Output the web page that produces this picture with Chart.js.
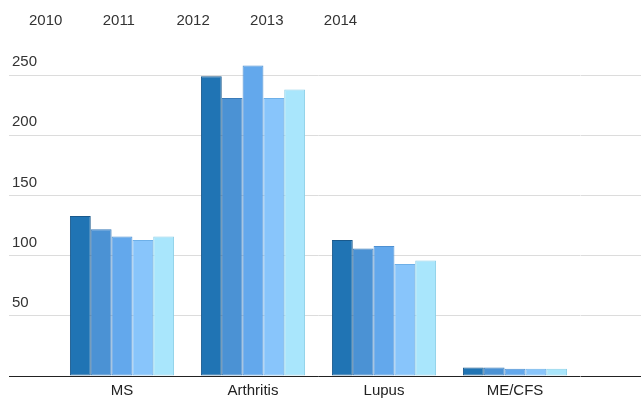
<!DOCTYPE html>
<html lang="en">
<head>
<meta charset="UTF-8">
<title>Cases by condition, 2010-2014</title>
<script src="https://cdn.jsdelivr.net/npm/chart.js"></script>
<style>
    html, body { margin: 0; padding: 0; background: #ffffff; }
    #wrap { width: 641px; height: 398px; position: relative; }
</style>
</head>
<body>
<div id="wrap"><canvas id="chart"></canvas></div>
<script>
const categories = ['MS', 'Arthritis', 'Lupus', 'ME/CFS'];
const years = ['2010', '2011', '2012', '2013', '2014'];
const values2010 = [133, 249, 113, 7];
const values2011 = [122, 231, 106, 7];
const values2012 = [116, 258, 108, 6];
const values2013 = [113, 231, 93, 6];
const values2014 = [116, 238, 96, 6];
const yMax = 280;
const yStep = 50;

const series = [values2010, values2011, values2012, values2013, values2014];
const fills = ['#2074b4', '#4b92d4', '#63a8ec', '#88c5fb', '#a9e6fc'];
const borders = ['#19598c', '#3a7bb8', '#4e90d2', '#6eb0e8', '#8ccfe8'];

const FONT = "Arial, 'Liberation Sans', sans-serif";

// legend text only (the coloured keys are cut off in the original)
const topLegend = {
    id: 'topLegend',
    afterDraw(chart) {
        const ctx = chart.ctx;
        ctx.save();
        ctx.font = '15px ' + FONT;
        ctx.fillStyle = '#333';
        ctx.textAlign = 'left';
        ctx.textBaseline = 'middle';
        chart.data.datasets.forEach((ds, i) => {
            ctx.fillText(ds.label, 29 + i * 73.7, 21);
        });
        ctx.restore();
    }
};

function gridColor(c) {
    return c.tick && c.tick.value === 0 ? '#222' : '#dcdcdc';
}

new Chart(document.getElementById('chart'), {
    type: 'bar',
    data: {
        labels: categories,
        datasets: years.map((y, i) => ({
            label: y,
            data: series[i],
            backgroundColor: fills[i],
            borderColor: borders[i],
            borderWidth: 1,
            borderSkipped: false,
            categoryPercentage: 0.795,
            barPercentage: 1
        }))
    },
    options: {
        responsive: true,
        maintainAspectRatio: false,
        animation: false,
        layout: { padding: { left: 12, right: 0, top: 39, bottom: -7 } },
        plugins: {
            legend: { display: false },
            tooltip: { enabled: false }
        },
        scales: {
            x: {
                grid: { display: false, drawTicks: false },
                border: { display: false },
                ticks: {
                    color: '#222',
                    padding: 7,
                    font: { family: FONT, size: 15, lineHeight: 1 }
                }
            },
            y: {
                position: 'left',
                min: 0,
                max: yMax,
                border: { display: false },
                grid: { color: gridColor, tickColor: gridColor, tickLength: 47.5 },
                ticks: {
                    stepSize: yStep,
                    includeBounds: false,
                    crossAlign: 'far',
                    labelOffset: -13,
                    color: '#333',
                    font: { family: FONT, size: 15 },
                    callback: v => v === 0 ? '' : v
                },
                afterFit(scale) { scale.width = 44.5; }
            },
            y2: {
                position: 'right',
                display: true,
                min: 0,
                max: yMax,
                border: { display: false },
                grid: { drawOnChartArea: false, color: gridColor, tickColor: gridColor, tickLength: 60.5 },
                ticks: { display: false, stepSize: yStep, includeBounds: false },
                afterFit(scale) { scale.width = 60.5; }
            }
        }
    },
    plugins: [topLegend]
});
</script>
</body>
</html>
